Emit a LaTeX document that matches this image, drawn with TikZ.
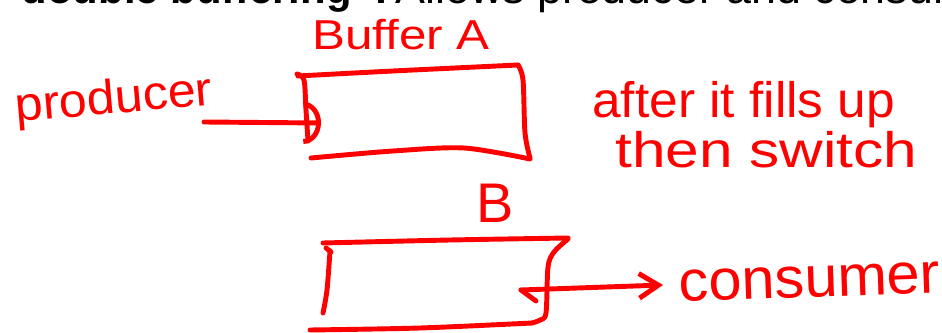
\documentclass[tikz,border=0pt]{standalone}
\usepackage{fontspec}
\usepackage{graphicx}
\setmainfont{Liberation Sans}
\usetikzlibrary{arrows.meta}
\definecolor{penred}{RGB}{255,0,0}
\begin{document}
\begin{tikzpicture}[x=0.02cm,y=-0.02cm,
  ink/.style={draw=penred,line width=2.8pt,line cap=round,line join=round},
  hand/.style={text=penred,inner sep=0pt},
  titletext/.style={text=black,inner sep=0pt}]
\useasboundingbox (0,0) rectangle (942,333);
\clip (0,0) rectangle (942,333);
\fill[white] (0,0) rectangle (942,333);
% clipped heading
\node[titletext,anchor=base east,font=\fontsize{23.8pt}{24pt}\selectfont\bfseries] (t1) at (352,3.5) {double buffering};
\node[titletext,anchor=base,font=\fontsize{23.8pt}{24pt}\selectfont\bfseries] (t2) at (381,3.5) {:};
\node[titletext,anchor=base west,font=\fontsize{25.5pt}{26pt}\selectfont] (t3) at (395,3.5) {Allows producer and consumer};
% handwritten labels
\node[hand,anchor=base west,font=\fontsize{23.8pt}{24pt}\selectfont] (labA) at (312,50) {\scalebox{1.18}[1]{Buffer A}};
\node[hand,anchor=base west,rotate=5,font=\fontsize{27.2pt}{28pt}\selectfont] (prod) at (16,122) {\scalebox{1.05}[1]{producer}};
\node[hand,anchor=base west,font=\fontsize{28.4pt}{29pt}\selectfont] (note1) at (592,118) {\scalebox{1.03}[1]{after it fills up}};
\node[hand,anchor=base west,font=\fontsize{28.4pt}{29pt}\selectfont] (note2) at (615,168) {\scalebox{1.21}[1]{then switch}};
\node[hand,anchor=base west,font=\fontsize{31.8pt}{32pt}\selectfont] (labB) at (476,223) {B};
\node[hand,anchor=base west,rotate=2,font=\fontsize{32.9pt}{33pt}\selectfont] (cons) at (679,302) {\scalebox{1.03}[1]{consumer}};
% buffer A outline
\draw[ink] plot[smooth] coordinates {(298,76) (393,71) (518,65)};
\draw[ink] plot[smooth] coordinates {(518,65) (523,80) (525,133) (530,158)};
\draw[ink] plot[smooth] coordinates {(311,158) (393,151) (464,148) (530,159)};
\draw[ink] plot[smooth] coordinates {(297,74) (304,80) (306,110) (308,141)};
% buffer B outline
\draw[ink] plot[smooth] coordinates {(323,243) (450,240) (568,238)};
\draw[ink] plot[smooth] coordinates {(568,239) (554,252) (548,267) (546,313) (540,320) (532,323)};
\draw[ink] plot[smooth] coordinates {(310,330) (420,328) (532,323)};
\draw[ink] plot[smooth] coordinates {(330,251) (327,290) (323,313)};
\draw[ink] (326,248) -- (331,252);
% connectors
\coordinate (pOut) at (204,122);
\coordinate (aIn) at (321,123);
\coordinate (bOut) at (521,290);
\coordinate (cIn) at (663,285);
\draw[ink,-{Arc Barb[length=10pt,width=24pt]}] (pOut) -- (aIn);
\draw[ink,-{Straight Barb[length=11pt,width=14pt]}] (bOut) -- (cIn);
\draw[ink] (bOut) -- ++(15,11);
\end{tikzpicture}
\end{document}
